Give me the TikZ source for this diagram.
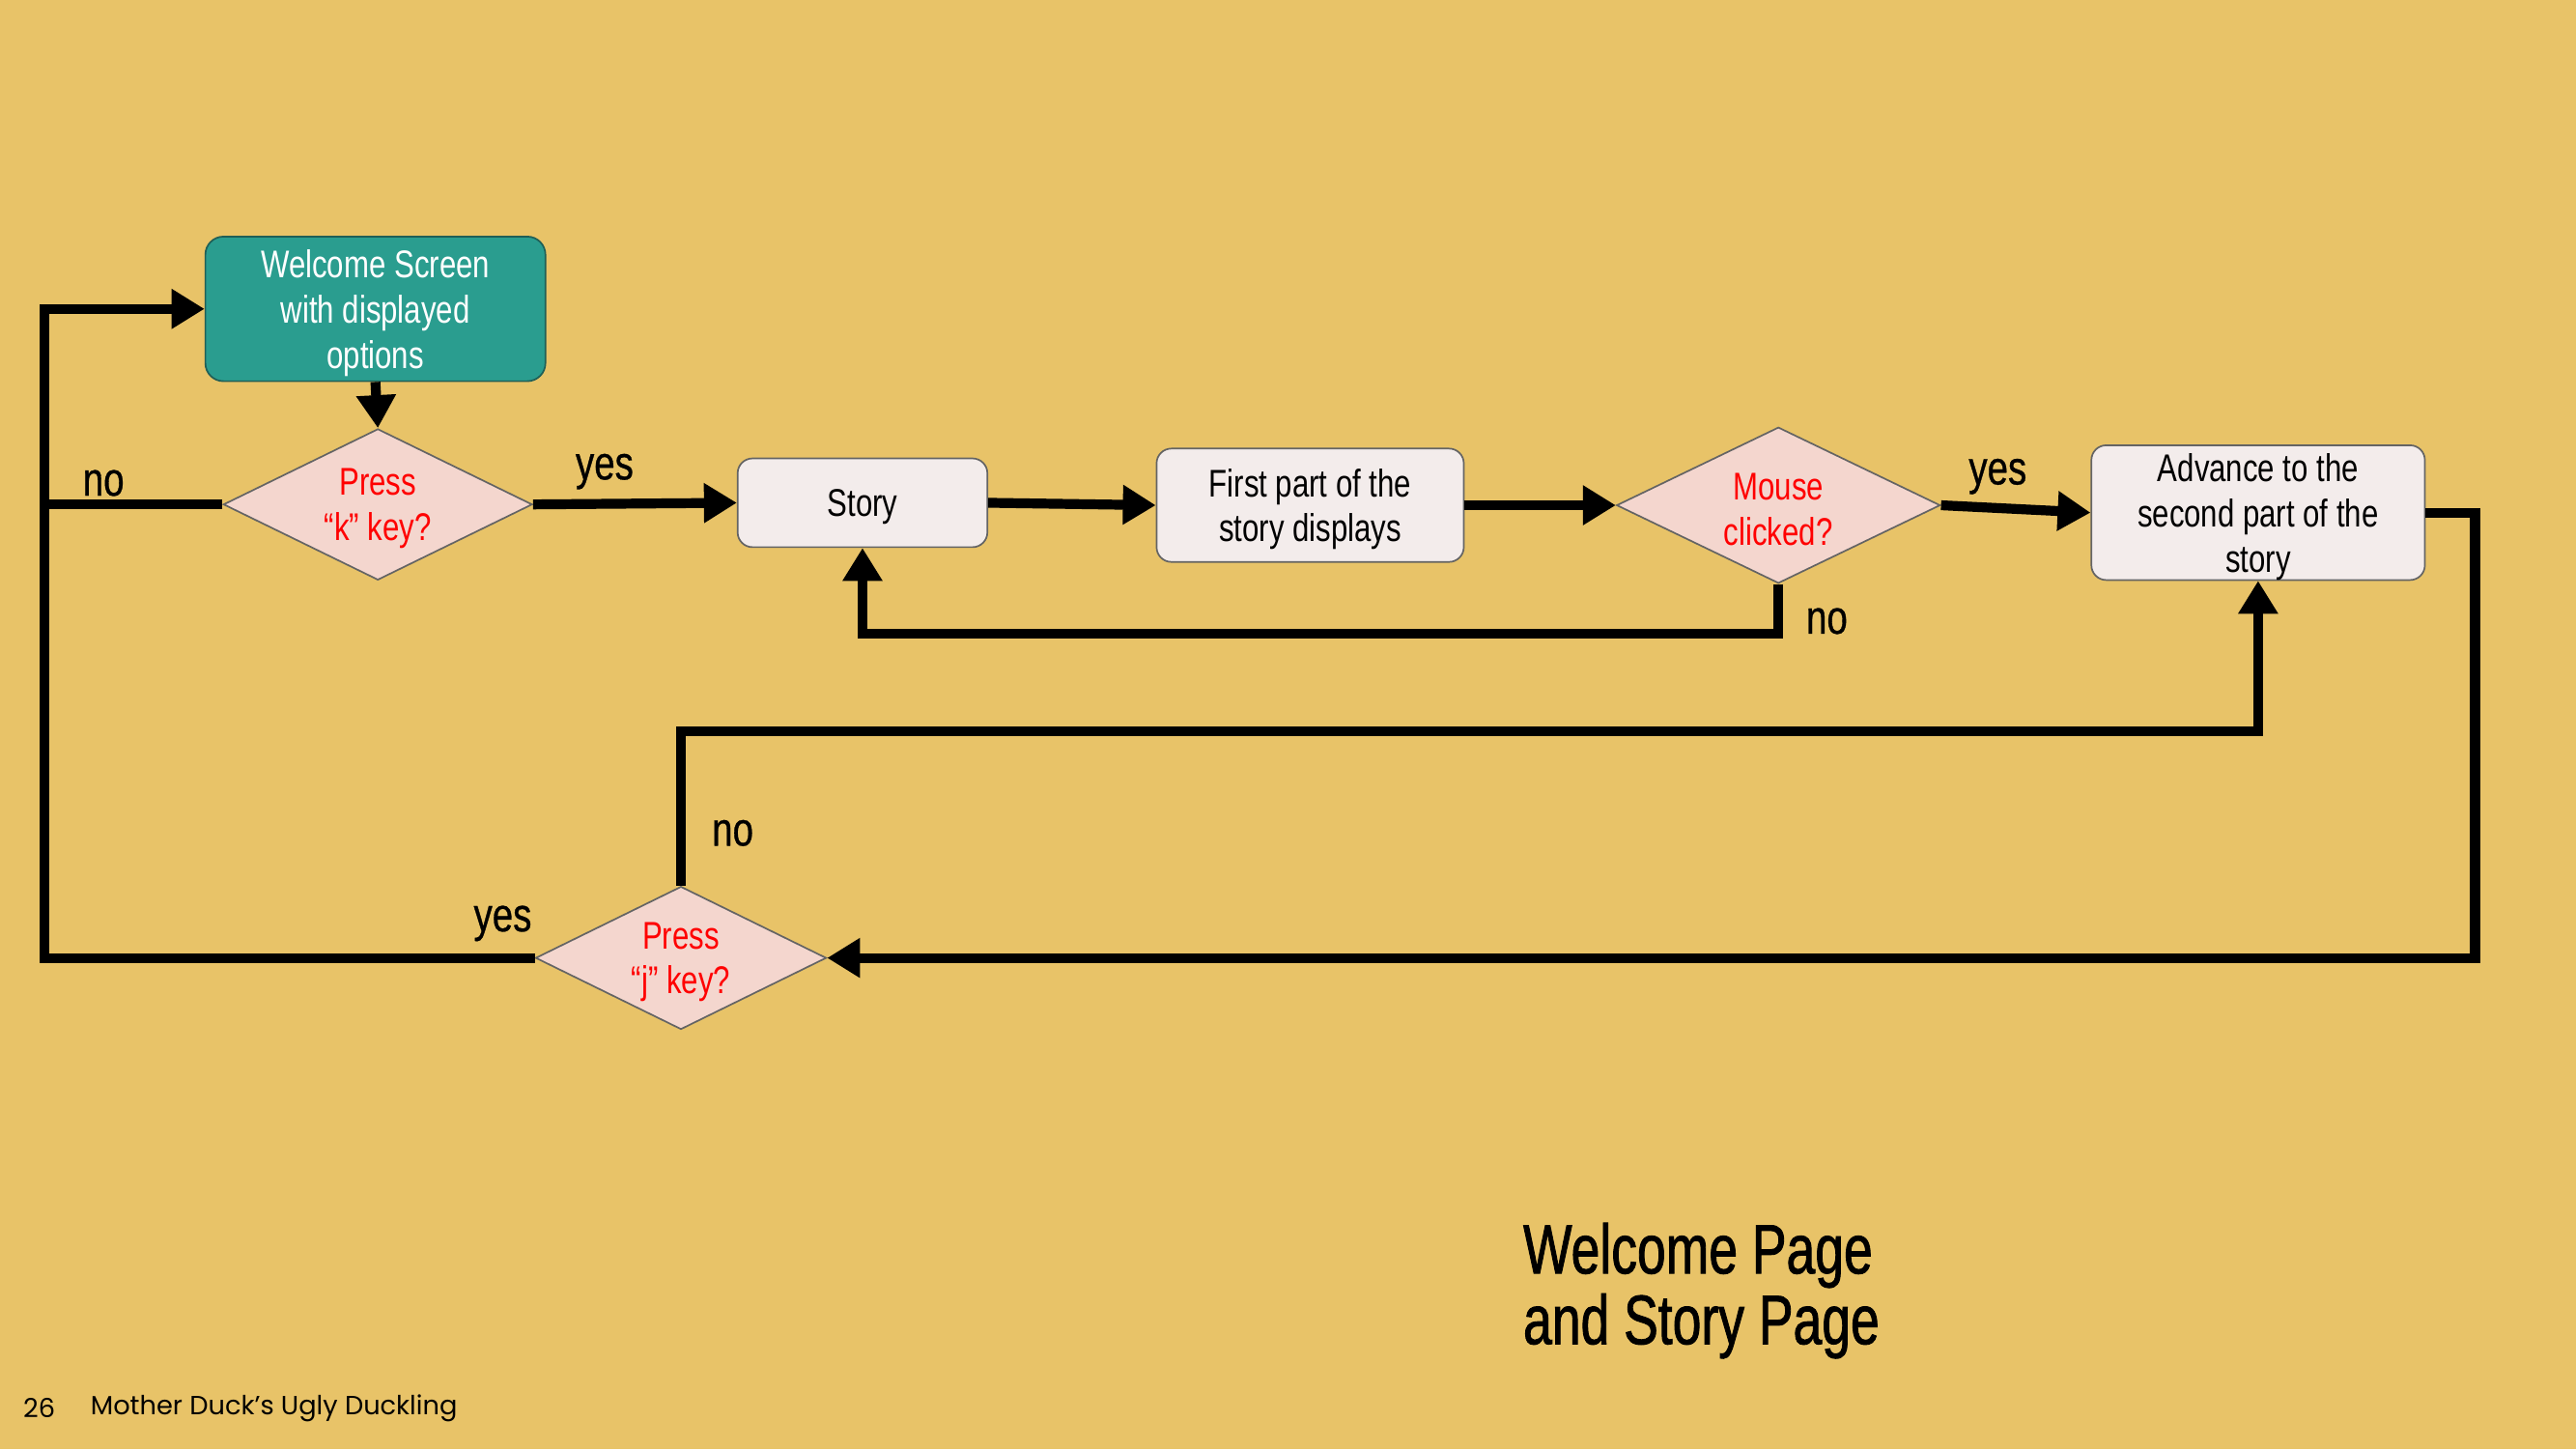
\documentclass[tikz,border=0pt]{standalone}
\usepackage{fontspec}
\setmainfont{Liberation Sans}[FakeStretch=0.78]
\newfontfamily\lblfont{Liberation Sans}[FakeStretch=0.78,FakeBold=0.6]
\newfontfamily\titlefont{Liberation Sans}[FakeStretch=0.74,FakeBold=1.2]
\newfontfamily\footfont{Poppins}
\usetikzlibrary{shapes.geometric,arrows.meta}
\definecolor{bg}{HTML}{E8C368}
\definecolor{teal}{HTML}{2A9D8F}
\definecolor{tealdark}{HTML}{1F5F57}
\definecolor{pinkfill}{HTML}{F4D6CE}
\definecolor{boxfill}{HTML}{F3ECEB}
\definecolor{edge}{HTML}{646464}
\definecolor{qred}{HTML}{FF0000}
\tikzset{
  boxtext/.style={font=\fontsize{23.5}{27.5}\selectfont, align=center},
  wbox/.style={boxtext, draw=tealdark, fill=teal, text=white, line width=1pt, rounded corners=11pt, inner sep=0pt},
  pbox/.style={boxtext, draw=edge, fill=boxfill, text=black, line width=1pt, rounded corners=9pt, inner sep=0pt},
  dia/.style={diamond, draw=edge, fill=pinkfill, line width=1pt, inner sep=0pt},
  qtext/.style={boxtext, text=qred, inner sep=0pt},
  tshift/.style={yshift=-2.5pt},
  conn/.style={line width=6pt, black},
  arr/.style={conn, -{Triangle[length=20pt,width=23pt]}},
  lbl/.style={font=\lblfont\fontsize{29}{32}\selectfont, text=black, inner sep=0pt}
}
\begin{document}
\begin{tikzpicture}[x=1pt,y=-1pt]
\fill[bg] (0,0) rectangle (1568,882);
\useasboundingbox (0,0) rectangle (1568,882);
% nodes
\node[wbox, minimum width=207pt, minimum height=88pt] (welcome) at (228.5,188) {};
\node[boxtext, text=white, tshift] (welcomet) at (welcome) {Welcome Screen\\with displayed\\options};
\node[dia, minimum width=188pt, minimum height=92pt] (k) at (230,307) {};
\node[qtext, tshift] (kt) at (k) {Press\\“k” key?};
\node[pbox, minimum width=152pt, minimum height=54pt] (story) at (525,306) {};
\node[boxtext, tshift] (storyt) at (story) {Story};
\node[pbox, minimum width=187pt, minimum height=69pt] (first) at (797.5,307.5) {};
\node[boxtext, tshift] (firstt) at (first) {First part of the\\story displays};
\node[dia, minimum width=197pt, minimum height=95pt] (mouse) at (1082.5,307.5) {};
\node[qtext, tshift] (mouset) at (mouse) {Mouse\\clicked?};
\node[pbox, minimum width=203pt, minimum height=82pt] (adv) at (1374.5,312) {};
\node[boxtext, tshift] (advt) at (adv) {Advance to the\\second part of the\\story};
\node[dia, minimum width=177pt, minimum height=87pt] (j) at (414.5,583) {};
\node[qtext, tshift] (jt) at (j) {Press\\“j” key?};
\coordinate (lx) at (27,0);
% connectors
\draw[arr] (welcome.south) -- (k.north);
\draw[conn] (k.west) -- (k.west -| lx);
\draw[arr] (j.west) -- (j.west -| lx) |- (welcome.west);
\draw[arr] (k.east) -- (story.west);
\draw[arr] (story.east) -- (first.west);
\draw[arr] (first.east) -- (mouse.west);
\draw[arr] (mouse.east) -- (adv.west);
\draw[arr] (mouse.south) -- ++(0,30) -| (story.south);
\draw[arr] (adv.east) -- ++(30,0) |- (j.east);
\draw[arr] (j.north) -- ++(0,-94) -| (adv.south);
% labels
\node[lbl] (lkno) at (63,294) {no};
\node[lbl] (lkyes) at (368,287) {yes};
\node[lbl] (lmyes) at (1216,290) {yes};
\node[lbl] (lmno) at (1112,378) {no};
\node[lbl] (ljno) at (446,507) {no};
\node[lbl] (ljyes) at (306,562) {yes};
% title
\node[anchor=north west, align=left, inner sep=0pt, font=\titlefont\fontsize{42.5}{43}\selectfont] (title) at (927,744) {Welcome Page\\and Story Page};
% footer
\node[anchor=west, inner sep=0pt, font=\footfont\fontsize{16}{18}\selectfont] (pnum) at (14,857) {26};
\node[anchor=west, inner sep=0pt, font=\footfont\fontsize{16}{18}\selectfont] (foot) at (55,857) {Mother Duck’s Ugly Duckling};
\end{tikzpicture}
\end{document}
